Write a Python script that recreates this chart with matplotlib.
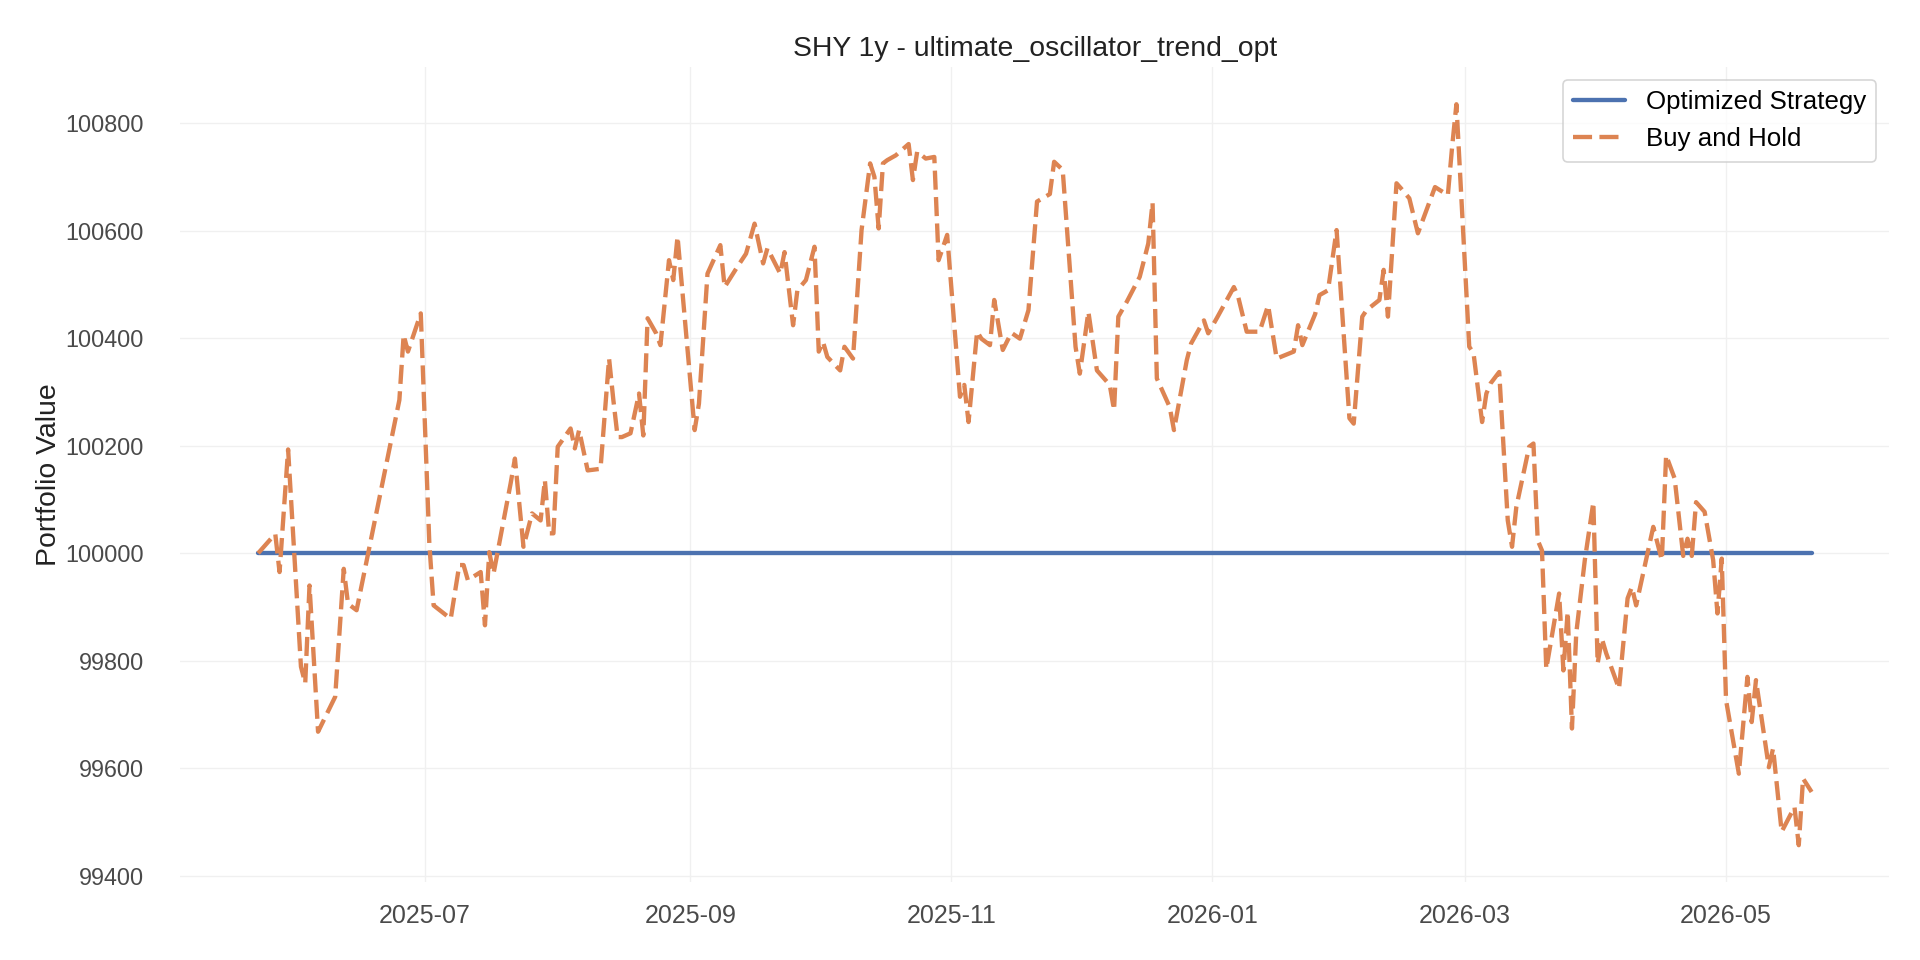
import matplotlib
matplotlib.use("Agg")
import matplotlib.pyplot as plt
import matplotlib.dates as mdates
import matplotlib.ticker as mticker
import pandas as pd

start_date = "2025-05-23"
end_day = 363

# days after start_date where the buy-and-hold line turns
bh_days = [0, 4, 5, 7, 10, 11, 12, 14, 18, 20, 21, 23, 33, 34, 35, 38, 40, 41, 45, 47,
           48, 49, 52, 53, 54, 55, 59, 60, 62, 64, 66, 67, 68, 69, 70, 73, 74, 75, 77, 80,
           82, 83, 84, 85, 87, 89, 90, 91, 93, 94, 96, 97, 98, 102, 103, 105, 108, 109, 112, 114,
           116, 118, 119, 122, 123, 125, 126, 128, 130, 131, 132, 133, 136, 137, 139, 141, 143, 144, 145, 146,
           147, 149, 152, 153, 154, 156, 158, 159, 161, 164, 165, 166, 168, 169, 171, 172, 174, 176, 178, 180,
           182, 185, 186, 188, 191, 192, 194, 196, 199, 200, 201, 203, 206, 208, 209, 210, 213, 214, 217, 218,
           221, 222, 224, 228, 229, 231, 234, 236, 238, 242, 243, 244, 247, 248, 250, 252, 255, 256, 258, 259,
           262, 263, 264, 266, 267, 269, 271, 275, 278, 279, 280, 283, 284, 286, 287, 288, 290, 292, 293, 294,
           297, 298, 299, 300, 301, 304, 305, 306, 307, 308, 310, 312, 313, 314, 315, 318, 320, 321, 322, 326,
           328, 329, 331, 333, 334, 335, 336, 338, 340, 341, 342, 343, 346, 348, 349, 350, 353, 354, 356, 359,
           360, 361, 363]

bh_values = [100000, 100036, 99965, 100193, 99789, 99758, 99940, 99668, 99733, 99971,
             99906, 99894, 100285, 100406, 100375, 100446, 100018, 99903, 99878, 99978,
             99978, 99950, 99965, 99866, 100002, 99962, 100130, 100176, 100012, 100074,
             100061, 100136, 100037, 100037, 100198, 100232, 100195, 100229, 100154, 100157,
             100362, 100285, 100216, 100216, 100223, 100297, 100219, 100437, 100409, 100387,
             100545, 100508, 100589, 100229, 100278, 100520, 100573, 100495, 100533, 100557,
             100613, 100539, 100567, 100520, 100560, 100424, 100489, 100508, 100570, 100375,
             100393, 100365, 100340, 100384, 100362, 100601, 100725, 100700, 100604, 100725,
             100731, 100740, 100761, 100694, 100747, 100734, 100737, 100545, 100592, 100291,
             100313, 100244, 100412, 100399, 100387, 100471, 100378, 100410, 100399, 100452,
             100654, 100668, 100728, 100713, 100384, 100334, 100449, 100340, 100313, 100266,
             100440, 100468, 100514, 100576, 100652, 100325, 100272, 100229, 100359, 100390,
             100433, 100409, 100437, 100495, 100477, 100412, 100412, 100461, 100362, 100375,
             100424, 100387, 100445, 100480, 100489, 100601, 100251, 100241, 100440, 100452,
             100471, 100527, 100440, 100688, 100679, 100660, 100595, 100681, 100666, 100756,
             100835, 100384, 100372, 100244, 100297, 100316, 100337, 100061, 100012, 100086,
             100198, 100204, 100024, 100005, 99785, 99925, 99782, 99891, 99674, 99851,
             99987, 100095, 99795, 99841, 99814, 99748, 99916, 99937, 99903, 100049,
             99987, 100182, 100139, 99995, 100027, 99995, 100095, 100077, 99987, 99888,
             99990, 99727, 99590, 99770, 99686, 99764, 99602, 99637, 99482, 99528,
             99457, 99581, 99556]

strategy_days = [0, end_day]
strategy_values = [100000, 100000]

start = pd.Timestamp(start_date)
bh_dates = [start + pd.Timedelta(days=d) for d in bh_days]
strategy_dates = [start + pd.Timedelta(days=d) for d in strategy_days]

plt.rcParams['font.family'] = ['Liberation Sans', 'DejaVu Sans']

fig = plt.figure(figsize=(16, 8), dpi=120)
ax = fig.add_subplot(111)
fig.subplots_adjust(left=0.094, right=0.984, top=0.930, bottom=0.081)

ax.plot(strategy_dates, strategy_values, color='#4C72B0', linewidth=2.6,
        label='Optimized Strategy', solid_capstyle='round')
ax.plot(bh_dates, bh_values, color='#DD8452', linewidth=2.6, linestyle='--',
        dashes=(4.4, 1.7), label='Buy and Hold')

ax.set_title('SHY 1y - ultimate_oscillator_trend_opt', fontsize=17, color='#222222', pad=6.5)
ax.set_ylabel('Portfolio Value', fontsize=17, color='#222222', labelpad=2)

ax.xaxis.set_major_locator(mdates.MonthLocator(bymonth=[1, 3, 5, 7, 9, 11]))
ax.xaxis.set_major_formatter(mdates.DateFormatter('%Y-%m'))
ax.yaxis.set_major_locator(mticker.MultipleLocator(200))
ax.yaxis.set_major_formatter(mticker.ScalarFormatter(useOffset=False))
ax.ticklabel_format(axis='y', style='plain', useOffset=False)

ax.tick_params(axis='both', length=0, labelcolor='#4a4a4a')
ax.tick_params(axis='x', labelsize=15, pad=13)
ax.tick_params(axis='y', labelsize=14, pad=22)
for s in ax.spines.values():
    s.set_visible(False)
ax.grid(True, color='#f0f0f0', linewidth=0.8)
ax.set_axisbelow(True)

leg = ax.legend(loc='upper right', fontsize=15.5, frameon=True, fancybox=True)
leg.get_frame().set_edgecolor('#cccccc')
leg.get_frame().set_linewidth(1.0)

fig.savefig('out.png', dpi=120)
